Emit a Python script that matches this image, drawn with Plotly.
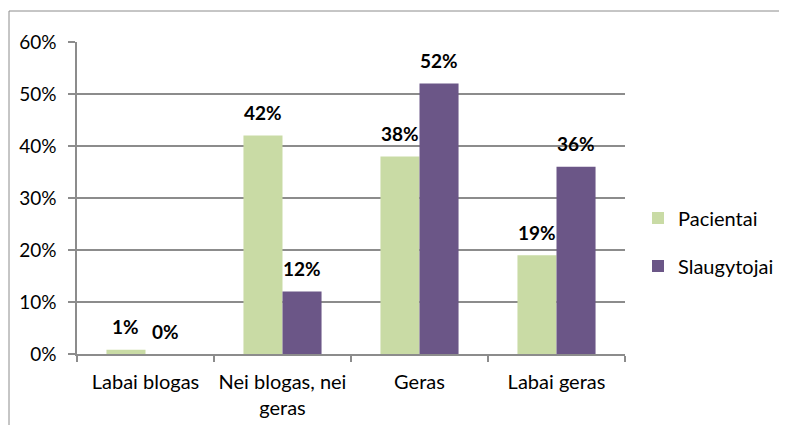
import plotly.graph_objects as go

categories = ["Labai blogas", "Nei blogas, nei<br>geras", "Geras", "Labai geras"]
pacientai = [0.8, 42, 38, 19]
slaugytojai = [0, 12, 52, 36]
pacientai_labels = ["1%", "42%", "38%", "19%"]
slaugytojai_labels = ["0%", "12%", "52%", "36%"]
y_ticks = [0, 10, 20, 30, 40, 50, 60]
y_tick_labels = ["0%", "10%", "20%", "30%", "40%", "50%", "60%"]

green = "#C9DBA5"
purple = "#6B5687"
grid = "#8C8C8C"
font = "Lato"
FS = 19

fig = go.Figure()
fig.add_trace(go.Bar(x=categories, y=pacientai, name="Pacientai", marker_color=green,
                     marker_line_width=0, legendgroup="a"))
fig.add_trace(go.Bar(x=categories, y=slaugytojai, name="Slaugytojai", marker_color=purple,
                     marker_line_width=0, legendgroup="b"))

# page has an 8px body margin, so figure coords = page coords - 8
OFF = 8
L, R, T, B = 77 - OFF, 787 - 625 + OFF, 42 - OFF, 425 - 354 + OFF
W = 787 - L - R
H = 425 - T - B
cat_w = W / len(categories)
bar_w = cat_w * (1 - 0.43) / 2
for i, c in enumerate(categories):
    for vals, labs, sh in ((pacientai, pacientai_labels, -bar_w / 2), (slaugytojai, slaugytojai_labels, bar_w / 2)):
        fig.add_annotation(x=c, y=vals[i], text="<b>" + labs[i] + "</b>", showarrow=False,
                           xref="x", yref="y", xshift=sh, yshift=23,
                           font=dict(family=font, size=FS, color="#000000"))

fig.add_shape(type="rect", xref="paper", yref="paper",
              x0=(9 - 77) / W, x1=(820 - 77) / W, y0=-(460 - 354) / H, y1=(354 - 11) / H,
              line=dict(color="#8C8C8C", width=1), fillcolor="rgba(0,0,0,0)", layer="below")

fig.update_layout(
    width=787, height=425,
    margin=dict(l=L, r=R, t=T, b=B, autoexpand=False),
    paper_bgcolor="white", plot_bgcolor="white",
    barmode="group", bargap=0.43, bargroupgap=0,
    font=dict(family=font, size=FS, color="#000000"),
    showlegend=True,
    legend=dict(x=(638 - 77) / W, y=(354 - 242) / H, xanchor="left", yanchor="middle",
                font=dict(family=font, size=20), traceorder="grouped", tracegroupgap=19,
                itemwidth=30),
    xaxis=dict(type="category", showgrid=False, showline=True, linecolor=grid, linewidth=1.5,
               ticks="outside", tickson="boundaries", ticklen=6, tickcolor=grid, tickwidth=1.5,
               tickfont=dict(family=font, size=20), ticklabelstandoff=9, tickangle=0,
               automargin=False),
    yaxis=dict(range=[0, 60], tickvals=y_ticks, ticktext=y_tick_labels, showgrid=True,
               gridcolor=grid, gridwidth=1.5, showline=True, linecolor=grid, linewidth=1.5,
               ticks="outside", ticklen=7, tickcolor=grid, tickwidth=1.5, zeroline=False,
               tickfont=dict(family=font, size=FS), ticklabelstandoff=8, automargin=False),
)

fig.write_html("out.html")
